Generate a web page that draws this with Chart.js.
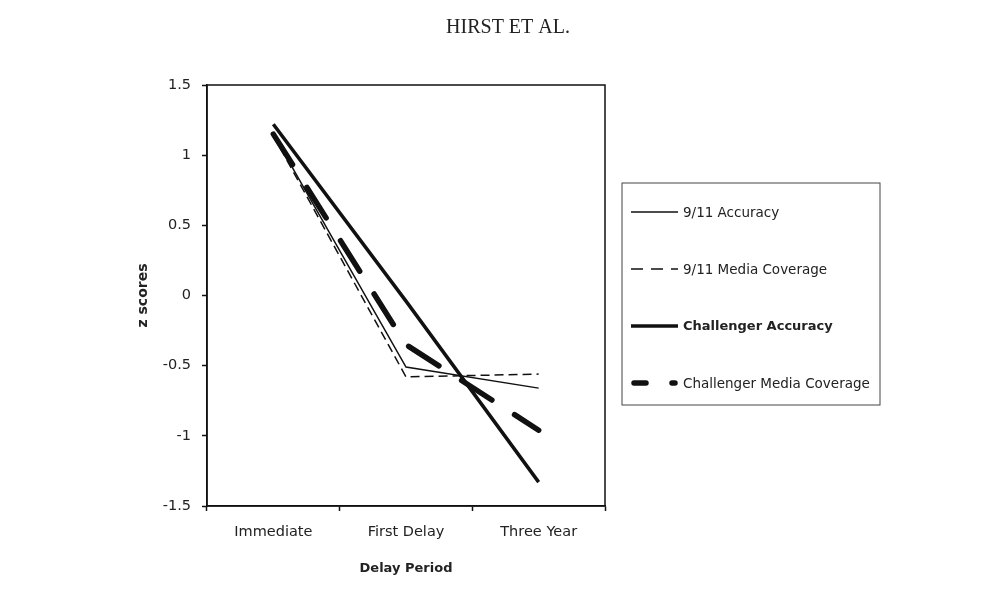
<!DOCTYPE html>
<html>
<head>
<meta charset="utf-8">
<script src="https://cdn.jsdelivr.net/npm/chart.js@4.4.1/dist/chart.umd.min.js"></script>
<style>
  html, body { margin: 0; padding: 0; background: #fff; }
  #wrap { width: 998px; height: 597px; }
</style>
</head>
<body>
<div id="wrap"><canvas id="myChart" width="998" height="597"></canvas></div>
<script>
// categories on the x axis
var periods = ['Immediate', 'First Delay', 'Three Year'];

// z scores
var acc911 = [1.15, -0.51, -0.66];
var media911 = [1.14, -0.58, -0.56];
var challAcc = [1.22, -0.04, -1.33];
var challMedia = [1.15, -0.35, -0.96];

// y tick labels, top to bottom
var yTicks = ['1.5', '1', '0.5', '0', '-0.5', '-1', '-1.5'];

var ink = '#111';
var font = '"DejaVu Sans", sans-serif';

// frame round the plot + boxed legend + running head
var extras = {
  id: 'extras',
  afterDraw: function(chart) {
    var c = chart.ctx;
    var a = chart.chartArea;
    c.save();
    c.strokeStyle = ink;
    c.lineWidth = 1.5;
    c.strokeRect(a.left, a.top, a.right - a.left, a.bottom - a.top);

    // running head
    c.fillStyle = '#222';
    c.font = '20px "Liberation Serif", serif';
    c.textAlign = 'center';
    c.textBaseline = 'middle';
    c.fillText('HIRST ET AL.', 508, 28);

    // legend
    c.lineWidth = 1;
    c.strokeStyle = '#444';
    c.strokeRect(622, 183, 258, 222);
    var legendDash = [[], [12, 8], [], [12, 26]];
    chart.data.datasets.forEach(function(ds, i) {
      var y = 212 + i * 57;
      c.beginPath();
      c.setLineDash(legendDash[i]);
      c.lineCap = i === 3 ? 'round' : 'butt';
      c.lineWidth = ds.borderWidth;
      c.strokeStyle = ink;
      c.moveTo(i === 3 ? 634 : 631, y);
      c.lineTo(i === 3 ? 675 : 678, y);
      c.stroke();
      c.setLineDash([]);
      c.fillStyle = '#222';
      c.font = (i === 2 ? 'bold 13px ' : '13.5px ') + font;
      c.textAlign = 'left';
      c.textBaseline = 'middle';
      c.fillText(ds.label, 683, y + 1);
    });
    c.restore();
  }
};

var ctx = document.getElementById('myChart').getContext('2d');
var myChart = new Chart(ctx, {
  type: 'line',
  data: {
    labels: periods,
    datasets: [
      { label: '9/11 Accuracy', data: acc911, borderColor: ink, borderWidth: 1.5 },
      { label: '9/11 Media Coverage', data: media911, borderColor: ink, borderWidth: 1.5, borderDash: [9, 5] },
      { label: 'Challenger Accuracy', data: challAcc, borderColor: ink, borderWidth: 3.5 },
      { label: 'Challenger Media Coverage', data: challMedia, borderColor: ink, borderWidth: 5.5, borderDash: [36, 27], borderCapStyle: 'round' }
    ]
  },
  options: {
    responsive: false,
    animation: false,
    layout: { padding: { left: 0, right: 393, top: 85, bottom: 0 } },
    elements: { point: { radius: 0 }, line: { tension: 0, fill: false } },
    plugins: { legend: { display: false }, tooltip: { enabled: false } },
    scales: {
      x: {
        type: 'category',
        offset: true,
        grid: { offset: true, drawOnChartArea: false, tickLength: 5, tickColor: ink, tickWidth: 1.5 },
        border: { color: ink, width: 1.5 },
        ticks: { color: '#222', font: { family: font, size: 14.5 }, padding: 13 },
        title: { display: true, text: 'Delay Period', color: '#222', font: { family: font, size: 13, weight: 'bold' }, padding: { top: 0, bottom: 21 } },
        afterFit: function(s) { s.height = 91; }
      },
      y: {
        min: -1.5,
        max: 1.5,
        grid: { drawOnChartArea: false, tickLength: 5, tickColor: ink, tickWidth: 1.5 },
        border: { color: ink, width: 1.5 },
        ticks: {
          stepSize: 0.5,
          color: '#222',
          font: { family: font, size: 14.5 },
          padding: 11,
          callback: function(v, i, all) { return yTicks[all.length - 1 - i]; }
        },
        title: { display: true, text: 'z scores', color: '#222', font: { family: font, size: 14, weight: 'bold' }, padding: { top: 135, bottom: 0 } },
        afterFit: function(s) { s.width = 207; }
      }
    }
  },
  plugins: [extras]
});
</script>
</body>
</html>
